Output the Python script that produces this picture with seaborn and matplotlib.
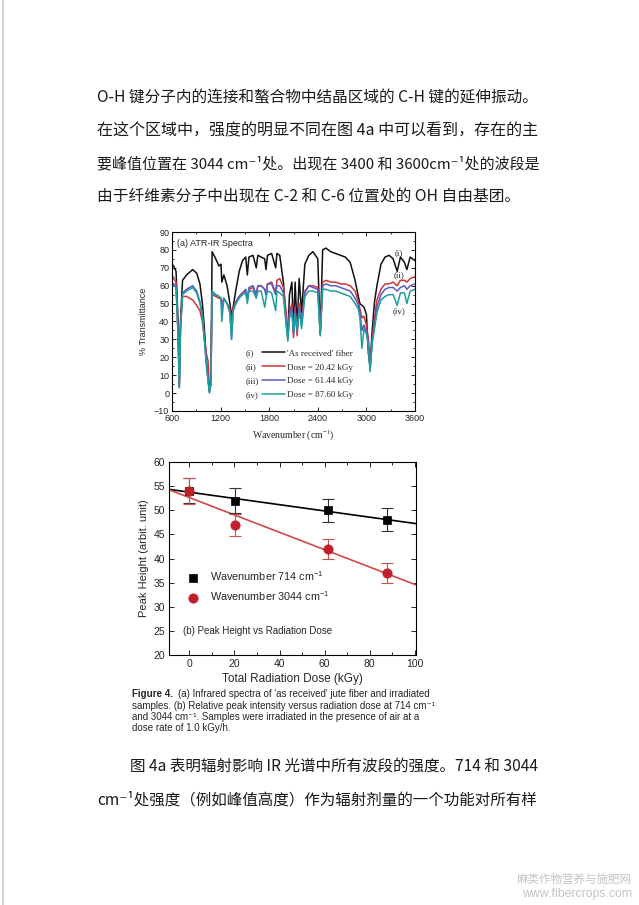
import numpy as np
import pandas as pd
import seaborn as sns
import matplotlib.pyplot as plt
from matplotlib.lines import Line2D
from matplotlib.ticker import MultipleLocator

# page text
para_top = [
    "O-H 键分子内的连接和螯合物中结晶区域的 C-H 键的延伸振动。",
    "在这个区域中，强度的明显不同在图 4a 中可以看到，存在的主",
    "要峰值位置在 3044 cm⁻¹处。出现在 3400 和 3600cm⁻¹处的波段是",
    "由于纤维素分子中出现在 C-2 和 C-6 位置处的 OH 自由基团。",
]
para_bottom = [
    "图 4a 表明辐射影响 IR 光谱中所有波段的强度。714 和 3044",
    "cm⁻¹处强度（例如峰值高度）作为辐射剂量的一个功能对所有样",
]
caption_lines = [
    "(a) Infrared spectra of 'as received' jute fiber and irradiated",
    "samples. (b) Relative peak intensity versus radiation dose at 714 cm⁻¹",
    "and 3044 cm⁻¹. Samples were irradiated in the presence of air at a",
    "dose rate of 1.0 kGy/h.",
]

# (a) ATR-IR spectra
wavenumber = [600, 620, 650, 675, 690, 705, 730, 780, 855, 905,
              945, 975, 1000, 1025, 1045, 1062, 1080, 1095, 1140, 1180,
              1205, 1215, 1240, 1280, 1315, 1335, 1355, 1390, 1430, 1470,
              1510, 1530, 1550, 1600, 1640, 1660, 1700, 1745, 1760, 1780,
              1830, 1880, 1895, 1930, 1975, 2010, 2030, 2050, 2080, 2100,
              2120, 2145, 2170, 2200, 2240, 2290, 2340, 2400, 2430, 2460,
              2500, 2560, 2620, 2680, 2740, 2800, 2860, 2900, 2920, 2945,
              2970, 3000, 3025, 3045, 3070, 3100, 3130, 3180, 3230, 3280,
              3330, 3380, 3420, 3470, 3500, 3540, 3600]
t_received = [72, 71, 68, 40, 5, 40, 63, 66, 69, 67,
              61, 50, 36, 18, 8, 1, 8, 79, 75, 71,
              72, 62, 66, 60, 50, 43, 48, 58, 68, 74,
              76, 66, 76, 77, 70, 77, 76, 75, 69, 77,
              78, 70, 78, 77, 62, 40, 32, 55, 62, 34,
              62, 36, 64, 45, 72, 77, 79, 75, 33, 80,
              81, 79, 78, 77, 76, 73, 63, 54, 50, 49,
              48, 44, 22, 15, 34, 51, 60, 72, 76, 77,
              75, 68, 76, 73, 69, 76, 74]
t_dose_20 = [66, 64, 62, 35, 4, 38, 54, 54, 52, 49,
             46, 40, 30, 22, 18, 3, 6, 55, 54, 53,
             53, 50, 53, 50, 47, 40, 48, 51, 54, 56,
             57, 52, 58, 59, 55, 60, 60, 58, 55, 61,
             62, 56, 63, 64, 59, 45, 32, 45, 50, 31,
             48, 32, 50, 40, 57, 60, 60, 59, 34, 62,
             63, 62, 62, 61, 61, 60, 57, 51, 47, 42,
             43, 38, 30, 14, 30, 42, 52, 58, 61, 61,
             62, 60, 63, 63, 62, 64, 65]
t_dose_61 = [62, 61, 60, 33, 3, 36, 56, 58, 60, 57,
             51, 44, 31, 16, 8, 0.5, 5, 56, 55, 54,
             53, 45, 53, 50, 45, 30, 46, 51, 54, 56,
             58, 52, 59, 60, 55, 60, 60, 58, 55, 61,
             61, 55, 60, 60, 56, 40, 30, 44, 48, 33,
             46, 34, 48, 38, 56, 60, 59, 58, 33, 60,
             61, 60, 60, 59, 58, 57, 53, 49, 45, 35,
             38, 34, 28, 13, 28, 38, 48, 55, 58, 59,
             59, 57, 59, 60, 58, 60, 61]
t_dose_87 = [61, 60, 59, 32, 3, 35, 55, 57, 59, 56,
             50, 43, 30, 15, 7, 0, 5, 57, 55, 54,
             53, 40, 53, 50, 45, 30, 46, 50, 53, 55,
             56, 50, 57, 57, 53, 57, 57, 48, 53, 57,
             56, 46, 57, 56, 54, 38, 29, 42, 45, 34,
             44, 35, 46, 36, 54, 57, 57, 56, 32, 58,
             58, 57, 57, 56, 55, 54, 50, 47, 42, 25,
             36, 33, 26, 12, 27, 36, 45, 52, 54, 55,
             55, 49, 56, 56, 50, 57, 58]
spectra_ids = ["(i)", "(ii)", "(iii)", "(iv)"]
spectra_names = ["'As received' fiber", "Dose = 20.42 kGy",
                 "Dose = 61.44 kGy", "Dose = 87.60 kGy"]
spectra_colors = ["#111111", "#d0343a", "#5a5ac8", "#1f9e9e"]

# (b) peak height vs radiation dose
dose = [0, 20.42, 61.44, 87.60]
peak_714 = [54, 52, 50, 48]
err_714 = [2.6, 2.6, 2.4, 2.4]
peak_3044 = [54, 47, 42, 37]
err_3044 = [2.7, 2.3, 2.1, 2.1]

W, H = 639, 905


def fx(px):
    return px / W


def fy(py):
    return 1 - py / H


sns.set_theme(style="ticks")
plt.rcParams["font.family"] = ["Liberation Sans", "DejaVu Sans"]
plt.rcParams["mathtext.default"] = "regular"
cjk = ["Noto Sans CJK SC", "DejaVu Sans"]

fig = plt.figure(figsize=(6.39, 9.05), dpi=100)
fig.patch.set_facecolor("white")
fig.add_artist(Line2D([fx(3), fx(3)], [0, 1], color="#c8c8c8", lw=1.2))

# Chinese paragraphs: (left px, y px, text, right px to justify to or None)
body = [(97, 98 + 33 * i, t, 540 if i < 3 else None) for i, t in enumerate(para_top)]
body += [(130, 766, para_bottom[0], 540), (97, 800, para_bottom[1], 540)]
body_texts = []
for x0, y0, t, x1 in body:
    body_texts.append(fig.text(fx(x0), fy(y0), t, family=cjk, fontsize=11.3,
                               va="center", color="#1a1a1a"))
fig.canvas.draw()
renderer = fig.canvas.get_renderer()
for (x0, y0, t, x1), txt in zip(body, body_texts):
    if x1 is not None:
        w = txt.get_window_extent(renderer).width
        txt.set_fontsize(11.3 * (x1 - x0) / w)

# ---- (a) spectra ----
ax1 = fig.add_axes([fx(172), fy(411), (415 - 172) / W, (411 - 232) / H])
for vals, col in zip([t_received, t_dose_20, t_dose_61, t_dose_87], spectra_colors):
    sns.lineplot(x=wavenumber, y=vals, color=col, lw=1.1, ax=ax1, legend=False)
ax1.set_xlim(600, 3600)
ax1.set_ylim(-10, 90)
ax1.xaxis.set_major_locator(MultipleLocator(600))
ax1.xaxis.set_minor_locator(MultipleLocator(300))
ax1.yaxis.set_major_locator(MultipleLocator(10))
ax1.yaxis.set_minor_locator(MultipleLocator(5))
ax1.tick_params(which="both", direction="in", top=True, right=True,
                labelsize=6.5, width=0.7, pad=2)
ax1.tick_params(which="major", length=3)
ax1.tick_params(which="minor", length=1.5)
for s in ax1.spines.values():
    s.set_linewidth(0.8)
    s.set_color("black")
ax1.set_xlabel("Wavenumber (cm$^{-1}$)", family="Liberation Serif", fontsize=7, labelpad=4)
ax1.set_ylabel("% Transmittance", fontsize=6.5, labelpad=4)
ax1.text(0.02, 0.96, "(a) ATR-IR Spectra", transform=ax1.transAxes,
         fontsize=6.5, va="top")
for lab, y in zip(["(i)", "(ii)", "(iv)"], [78, 66, 46]):
    ax1.text(3400, y, lab, family="Liberation Serif", fontsize=6.5,
             ha="center", va="center")

blank = [Line2D([], [], color="none") for _ in spectra_ids]
lines = [Line2D([], [], color=c, lw=1.1) for c in spectra_colors]
ax1.legend(blank + lines, spectra_ids + spectra_names, ncol=2,
           loc="upper left", bbox_to_anchor=(0.18, 0.37), frameon=False,
           prop={"family": "Liberation Serif", "size": 6.5},
           handlelength=2.6, handletextpad=0.2, columnspacing=0.3,
           labelspacing=0.62, borderpad=0)

# ---- (b) peak height ----
ax2 = fig.add_axes([fx(169), fy(655), (416 - 169) / W, (655 - 462) / H])
ax2.set_xlim(-9, 100.5)
ax2.set_ylim(20, 60)
sns.regplot(x=dose, y=peak_714, scatter=False, ci=None, truncate=False,
            color="black", line_kws={"lw": 1.2}, ax=ax2)
sns.regplot(x=dose, y=peak_3044, scatter=False, ci=None, truncate=False,
            color="#d04848", line_kws={"lw": 1.2}, ax=ax2)
ax2.errorbar(dose, peak_714, yerr=err_714, fmt="none", ecolor="#333333",
             elinewidth=0.8, capsize=4, capthick=0.8)
ax2.errorbar(dose, peak_3044, yerr=err_3044, fmt="none", ecolor="#c85050",
             elinewidth=0.8, capsize=4, capthick=0.8)
sns.scatterplot(x=dose, y=peak_714, marker="s", color="black", s=40,
                edgecolor="black", ax=ax2, zorder=4,
                label="Wavenumber 714 cm$^{-1}$")
sns.scatterplot(x=dose, y=peak_3044, marker="o", color="#c0202a", s=45,
                edgecolor="#c0202a", ax=ax2, zorder=5,
                label="Wavenumber 3044 cm$^{-1}$")
ax2.set_xlim(-9, 100.5)
ax2.xaxis.set_major_locator(MultipleLocator(20))
ax2.xaxis.set_minor_locator(MultipleLocator(10))
ax2.yaxis.set_major_locator(MultipleLocator(5))
ax2.tick_params(which="both", direction="in", top=True, right=True,
                labelsize=7.5, width=0.7, pad=3)
ax2.tick_params(which="major", length=3.5)
ax2.tick_params(which="minor", length=2)
for s in ax2.spines.values():
    s.set_linewidth(0.8)
    s.set_color("black")
ax2.set_xlabel("Total Radiation Dose (kGy)", fontsize=8.5, labelpad=3)
ax2.set_ylabel("Peak Height (arbit. unit)", fontsize=8, labelpad=3)
ax2.legend(loc="upper left", bbox_to_anchor=(0.03, 0.475), frameon=False,
           fontsize=7.8, handletextpad=0.6, labelspacing=0.6, borderpad=0)
ax2.text(0.055, 0.125, "(b) Peak Height vs Radiation Dose",
         transform=ax2.transAxes, fontsize=7, va="center")

# caption
fig.text(fx(132), fy(694), "Figure 4.", fontsize=7, weight="bold", va="center")
fig.text(fx(178), fy(694), caption_lines[0], fontsize=7, va="center")
for i, line in enumerate(caption_lines[1:]):
    fig.text(fx(132), fy(705.5 + 11.3 * i), line, fontsize=7, va="center")

# watermark
fig.text(fx(632), fy(879), "麻类作物营养与施肥网", family=cjk, fontsize=8.3,
         color="#c4c4c4", ha="right", va="center")
fig.text(fx(632), fy(894), "www.fibercrops.com", fontsize=8.8,
         color="#c4c4c4", ha="right", va="center")

fig.savefig("out.png", dpi=100, facecolor="white")
